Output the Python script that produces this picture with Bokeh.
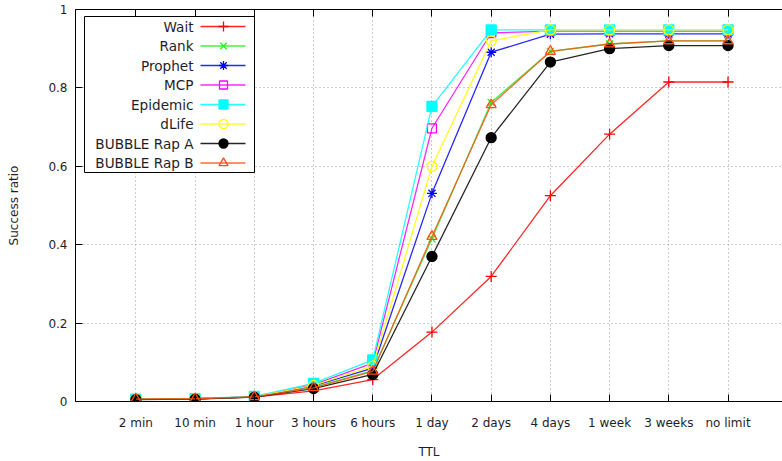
from bokeh.plotting import figure
from bokeh.models import Range1d, FixedTicker, LinearAxis
from bokeh.core.properties import value
from bokeh.embed import file_html
from bokeh.resources import INLINE

# TTL categories on the x axis
ttl_labels = ["2 min", "10 min", "1 hour", "3 hours", "6 hours", "1 day",
              "2 days", "4 days", "1 week", "3 weeks", "no limit"]

# success ratio per routing scheme
wait = [0.006, 0.007, 0.011, 0.027, 0.056, 0.177, 0.319, 0.525, 0.682, 0.815, 0.815]
rank = [0.006, 0.007, 0.012, 0.036, 0.079, 0.415, 0.763, 0.893, 0.912, 0.920, 0.920]
prophet = [0.006, 0.007, 0.012, 0.040, 0.085, 0.531, 0.891, 0.937, 0.938, 0.938, 0.938]
mcp = [0.006, 0.007, 0.012, 0.043, 0.098, 0.697, 0.940, 0.945, 0.945, 0.945, 0.945]
epidemic = [0.006, 0.007, 0.013, 0.046, 0.106, 0.753, 0.948, 0.948, 0.948, 0.948, 0.948]
dlife = [0.006, 0.007, 0.012, 0.041, 0.090, 0.600, 0.920, 0.948, 0.948, 0.948, 0.948]
bubble_a = [0.005, 0.006, 0.011, 0.033, 0.069, 0.370, 0.673, 0.866, 0.900, 0.908, 0.908]
bubble_b = [0.006, 0.007, 0.012, 0.035, 0.077, 0.421, 0.757, 0.893, 0.912, 0.920, 0.920]

y_ticks = [0, 0.2, 0.4, 0.6, 0.8, 1]

FONT = "DejaVu Sans"
TXT = "#1e1e2a"

# frame geometry (pixels) and data ranges
FRAME_L, FRAME_T, FRAME_W, FRAME_H = 75, 9, 707, 392
X0, X1 = -1.02, 10.92


def dx(px):
    return X0 + (px - FRAME_L) * (X1 - X0) / FRAME_W


def dy(py):
    return (FRAME_T + FRAME_H - py) / FRAME_H


p = figure(width=782, height=461, output_backend="svg", toolbar_location=None,
           x_range=Range1d(X0, X1), y_range=Range1d(0, 1),
           min_border_left=FRAME_L, min_border_right=0,
           min_border_top=FRAME_T, min_border_bottom=461 - FRAME_T - FRAME_H)
p.outline_line_color = None
p.background_fill_color = "white"
p.border_fill_color = "white"

xs = list(range(len(ttl_labels)))

# axes
p.xaxis.ticker = FixedTicker(ticks=xs)
p.xaxis.major_label_overrides = {i: t for i, t in enumerate(ttl_labels)}
p.xaxis.axis_label = "TTL"
p.yaxis.ticker = FixedTicker(ticks=y_ticks)
p.yaxis.major_label_overrides = {0: "0", 1: "1"}
p.yaxis.axis_label = "Success ratio"
for ax in (p.xaxis[0], p.yaxis[0]):
    ax.major_tick_in = 7
    ax.major_tick_out = 0
    ax.minor_tick_line_color = None
    ax.axis_line_color = "black"
    ax.major_tick_line_color = "black"
    ax.major_label_text_font = FONT
    ax.major_label_text_font_size = "12px"
    ax.major_label_text_color = TXT
    ax.axis_label_text_font = FONT
    ax.axis_label_text_font_size = "12px"
    ax.axis_label_text_font_style = "normal"
    ax.axis_label_text_color = TXT
p.xaxis.major_label_standoff = 14
p.xaxis.axis_label_standoff = 12
p.yaxis.major_label_standoff = 8
p.yaxis.axis_label_standoff = 24

top = LinearAxis(ticker=FixedTicker(ticks=xs), major_tick_in=7, major_tick_out=0,
                 minor_tick_line_color=None, major_label_text_alpha=0,
                 major_label_text_font_size="1px", major_label_standoff=0,
                 axis_line_color="black", major_tick_line_color="black")
p.add_layout(top, "above")

# dotted grid
p.xgrid.ticker = FixedTicker(ticks=xs)
p.ygrid.ticker = FixedTicker(ticks=[0.2, 0.4, 0.6, 0.8])
for g in (p.xgrid[0], p.ygrid[0]):
    g.grid_line_color = "#9a9a9a"
    g.grid_line_dash = "1 3"
    g.grid_line_width = 1

series = [
    ("Wait", wait, "#ff0000", "cross", False, 11),
    ("Rank", rank, "#22f022", "x", False, 10),
    ("Prophet", prophet, "#0000ff", "asterisk", False, 10),
    ("MCP", mcp, "#ff00ff", "square", False, 9),
    ("Epidemic", epidemic, "#00ffff", "square", True, 10),
    ("dLife", dlife, "#ffff00", "circle", False, 10),
    ("BUBBLE Rap A", bubble_a, "#000000", "circle", True, 10),
    ("BUBBLE Rap B", bubble_b, "#ff5010", "triangle", False, 10),
]

for name, ys, col, mk, filled, sz in series:
    p.line(xs, ys, line_color=col, line_width=1.3, line_alpha=0.85)
    p.scatter(xs, ys, marker=mk, size=sz, line_color=col, line_width=1.3,
              fill_color=col if filled else None)

# key box, upper left
p.quad(left=[dx(84)], right=[dx(254)], top=[dy(16)], bottom=[dy(172)],
       fill_color="white", line_color="black", line_width=1)
row_y = [dy(26 + 19.5 * i) for i in range(len(series))]
p.text(x=[dx(193)] * len(series), y=row_y, text=[s[0] for s in series],
       text_align="right", text_baseline="middle", text_font=value(FONT),
       text_font_size="13.6px", text_color=TXT)
for (name, ys, col, mk, filled, sz), yy in zip(series, row_y):
    p.segment(x0=[dx(200)], x1=[dx(245)], y0=[yy], y1=[yy],
              line_color=col, line_width=1.3, line_alpha=0.85)
    p.scatter([dx(223)], [yy], marker=mk, size=sz - 1, line_color=col, line_width=1.3,
              fill_color=col if filled else None)

open("out.html", "w").write(file_html(p, INLINE))
